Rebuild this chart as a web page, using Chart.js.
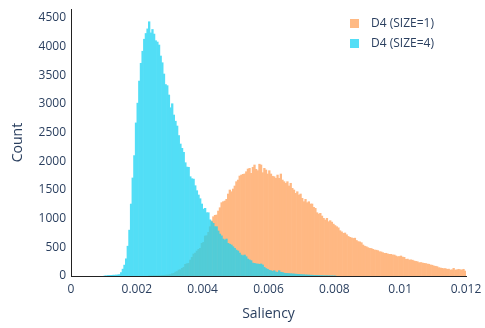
<!DOCTYPE html>
<html>
<head>
<meta charset="utf-8">
<script src="https://cdn.jsdelivr.net/npm/chart.js@4"></script>
<style>
  body { margin: 0; background: #fff; }
  #wrap { position: relative; width: 485px; height: 328px; font-family: 'Open Sans', sans-serif; }
  .legend { position: absolute; left: 350px; font-size: 12px; color: #2a3f5f; line-height: 14px; }
  .legend span.box { display: inline-block; width: 9px; height: 9px; vertical-align: -1px; margin-right: 12px; }
</style>
</head>
<body>
<div id="wrap">
  <canvas id="chart" width="485" height="328"></canvas>
  <div class="legend" style="top:16px"><span class="box" style="background:rgba(255,161,90,0.75)"></span>D4 (SIZE=1)</div>
  <div class="legend" style="top:36px"><span class="box" style="background:rgba(25,211,243,0.75)"></span>D4 (SIZE=4)</div>
</div>
<script>
// histogram bins: bin i spans [i*binWidth, (i+1)*binWidth]
const binWidth = 0.00005;

// D4 (SIZE=4), first bin index 20
const cyanStart = 20;
const cyanCounts = [
    2, 4, 8, 10, 12, 14, 15, 17, 20, 25,
    60, 120, 190, 300, 520, 800, 1255, 1710, 2100, 2670,
    3015, 3400, 3710, 3920, 4130, 4230, 4310, 4435, 4240, 4300,
    4220, 4104, 4081, 4029, 3837, 3720, 3523, 3340, 3320, 3157,
    2935, 3005, 2808, 2700, 2616, 2450, 2302, 2227, 2157, 1976,
    1900, 1896, 1732, 1697, 1690, 1575, 1488, 1413, 1348, 1256,
    1168, 1180, 1104, 1104, 980, 947, 919, 860, 860, 785,
    732, 700, 645, 628, 645, 570, 555, 541, 511, 483,
    453, 436, 400, 366, 354, 366, 337, 296, 280, 267,
    225, 221, 212, 209, 205, 209, 192, 151, 130, 117,
    100, 93, 82, 93, 70, 65, 93, 65, 62, 50,
    47, 45, 42, 40, 38, 35, 33, 30, 28, 26,
    24, 22, 20, 18, 17, 15, 14, 12, 11, 10,
    9, 8, 7, 6, 5, 5, 4, 3, 3, 2, 2
];

// D4 (SIZE=1), first bin index 47
const orangeStart = 47;
const orangeCounts = [
    2, 3, 3,
    4, 5, 6, 7, 8, 10, 12, 15, 18, 20,
    25, 40, 47, 70, 78, 105, 110, 134, 151, 204,
    215, 221, 279, 326, 384, 400, 436, 465, 483, 570,
    587, 698, 703, 762, 860, 960, 1034, 1058, 1064, 1133,
    1191, 1279, 1296, 1308, 1337, 1430, 1500, 1470, 1517, 1570,
    1645, 1674, 1744, 1761, 1773, 1780, 1819, 1866, 1878, 1791,
    1896, 1936, 1861, 1837, 1950, 1936, 1802, 1878, 1849, 1779,
    1837, 1779, 1740, 1732, 1704, 1761, 1704, 1779, 1674, 1645,
    1617, 1645, 1570, 1617, 1529, 1500, 1442, 1470, 1413, 1430,
    1355, 1296, 1337, 1279, 1296, 1256, 1256, 1198, 1180, 1104,
    1081, 1093, 1046, 1006, 977, 1006, 947, 965, 940, 905,
    880, 860, 840, 790, 770, 745, 750, 720, 690, 675,
    665, 655, 660, 620, 600, 595, 581, 541, 520, 511,
    494, 483, 480, 465, 453, 450, 442, 424, 420, 407,
    396, 396, 384, 378, 378, 366, 366, 349, 337, 340,
    349, 330, 326, 291, 295, 279, 282, 276, 262, 255,
    250, 232, 235, 228, 221, 218, 209, 205, 192, 188,
    174, 170, 163, 145, 140, 134, 128, 130, 117, 120,
    105, 108, 134, 105, 108, 117, 110, 105, 117, 87
];

const seriesNames = ["D4 (SIZE=1)", "D4 (SIZE=4)"];
const xTicks = [0, 0.002, 0.004, 0.006, 0.008, 0.01, 0.012];
const xTickLabels = ["0", "0.002", "0.004", "0.006", "0.008", "0.01", "0.012"];
const yTicks = [0, 500, 1000, 1500, 2000, 2500, 3000, 3500, 4000, 4500];

const fontFamily = "'Open Sans', sans-serif";
const textColor = '#2a3f5f';

function toBins(start, counts) {
    return counts.map((c, k) => ({ x: (start + k + 0.5) * binWidth, y: c }));
}

// draw each dataset opaque on its own layer, then put the layer down at 0.75
// (like plotly's trace opacity, so neighbouring bars don't leave seams)
const layerAlpha = {
    id: 'layerAlpha',
    beforeDatasetDraw(chart, args) {
        const off = document.createElement('canvas');
        off.width = chart.canvas.width;
        off.height = chart.canvas.height;
        const octx = off.getContext('2d');
        const dpr = chart.currentDevicePixelRatio;
        octx.scale(dpr, dpr);
        args.meta.data.forEach(bar => bar.draw(octx));

        const ctx = chart.ctx;
        const area = chart.chartArea;
        ctx.save();
        ctx.beginPath();
        ctx.rect(area.left, area.top, area.right - area.left, area.bottom - area.top);
        ctx.clip();
        ctx.globalAlpha = 0.75;
        ctx.setTransform(1, 0, 0, 1, 0, 0);
        ctx.drawImage(off, 0, 0);
        ctx.restore();
        return false;
    }
};

new Chart(document.getElementById('chart'), {
    type: 'bar',
    data: {
        datasets: [
            {
                label: seriesNames[0],
                data: toBins(orangeStart, orangeCounts),
                backgroundColor: '#FFA15A',
                order: 1
            },
            {
                label: seriesNames[1],
                data: toBins(cyanStart, cyanCounts),
                backgroundColor: '#19D3F3',
                order: 0
            }
        ]
    },
    options: {
        responsive: false,
        animation: false,
        devicePixelRatio: 1,
        layout: { padding: { top: 9, right: 19, left: 0, bottom: 0 } },
        datasets: {
            bar: {
                grouped: false,
                barPercentage: 1,
                categoryPercentage: 1,
                borderWidth: 0
            }
        },
        plugins: {
            legend: { display: false },
            tooltip: { enabled: false }
        },
        scales: {
            x: {
                type: 'linear',
                min: 0,
                max: 0.012,
                offset: false,
                grid: { display: false, drawTicks: false, offset: false },
                border: { display: true, color: '#222', width: 1 },
                afterBuildTicks: scale => { scale.ticks = xTicks.map(v => ({ value: v })); },
                afterFit: scale => {
                    scale.height = 52;
                    scale.paddingLeft = 0;
                    scale.paddingRight = 0;
                },
                ticks: {
                    maxRotation: 0,
                    autoSkip: false,
                    padding: 6,
                    color: textColor,
                    font: { family: fontFamily, size: 12 },
                    callback: (value, index) => xTickLabels[index]
                },
                title: {
                    display: true,
                    text: 'Saliency',
                    color: textColor,
                    font: { family: fontFamily, size: 14 },
                    padding: { top: 0, bottom: 6 }
                }
            },
            y: {
                min: 0,
                max: 4657,
                grid: { display: false, drawTicks: false },
                border: { display: true, color: '#222', width: 1 },
                afterBuildTicks: scale => { scale.ticks = yTicks.map(v => ({ value: v })); },
                afterFit: scale => {
                    scale.width = 71;
                    scale.paddingTop = 0;
                    scale.paddingBottom = 0;
                },
                ticks: {
                    padding: 5,
                    color: textColor,
                    font: { family: fontFamily, size: 12 },
                    callback: value => String(value)
                },
                title: {
                    display: true,
                    text: 'Count',
                    color: textColor,
                    font: { family: fontFamily, size: 14 },
                    padding: { top: 10, bottom: 0 }
                }
            }
        }
    },
    plugins: [layerAlpha]
});
</script>
</body>
</html>
